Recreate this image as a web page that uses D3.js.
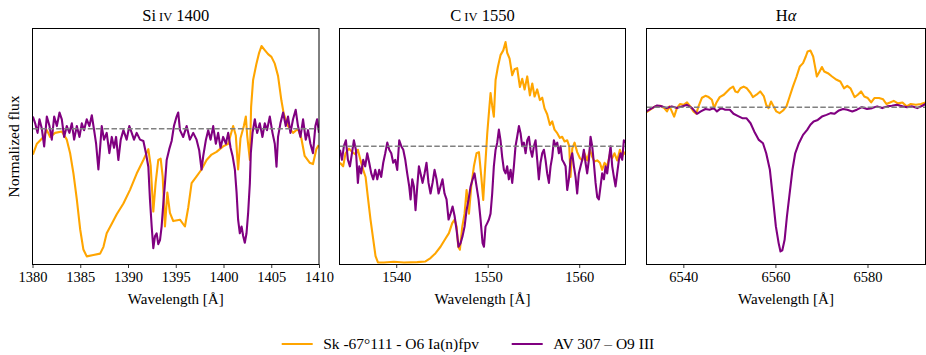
<!DOCTYPE html>
<html>
<head>
<meta charset="utf-8">
<script src="https://cdn.jsdelivr.net/npm/d3@7"></script>
<style>
  body { margin: 0; background: #fff; }
  svg { display: block; }
  text { font-family: "Liberation Serif", "DejaVu Serif", serif; fill: #000; }
</style>
</head>
<body>
<svg id="chart" width="926" height="355"></svg>
<script>
// Normalized spectra as [wavelength (Å), normalized flux] pairs.

// Si IV 1400 region
const siivSk67 = [
  [1380.04,0.81],[1380.46,0.89],[1381.15,0.94],[1381.50,0.99],[1381.85,0.94],[1382.37,0.97],
  [1383.07,0.98],[1383.59,0.92],[1383.94,0.82],[1384.29,0.67],[1384.64,0.48],[1384.99,0.26],
  [1385.33,0.11],[1385.68,0.06],[1386.38,0.07],[1387.08,0.08],[1387.43,0.13],[1387.77,0.23],
  [1388.30,0.30],[1388.82,0.37],[1389.52,0.45],[1390.21,0.55],[1390.91,0.67],[1391.61,0.77],
  [1392.13,0.85],[1392.37,0.73],[1392.65,0.39],[1392.89,0.60],[1393.17,0.77],[1393.42,0.78],
  [1393.63,0.65],[1393.87,0.28],[1394.12,0.53],[1394.39,0.38],[1394.74,0.32],[1395.44,0.33],
  [1395.96,0.28],[1396.31,0.42],[1396.66,0.60],[1397.18,0.65],[1397.70,0.70],[1398.23,0.77],
  [1398.75,0.81],[1399.27,0.83],[1399.96,0.87],[1400.49,0.89],[1401.01,1.02],[1401.29,0.95],
  [1401.53,0.70],[1401.78,0.93],[1402.13,1.02],[1402.34,1.09],[1402.48,0.95],[1402.76,0.77],
  [1402.89,1.16],[1403.10,1.36],[1403.45,1.48],[1403.73,1.56],[1403.98,1.61],[1404.32,1.58],
  [1404.67,1.55],[1405.02,1.53],[1405.37,1.48],[1405.71,1.39],[1406.06,1.21],[1406.31,1.11],
  [1406.76,1.02],[1407.28,0.97],[1407.80,1.00],[1408.15,0.93],[1408.50,0.80],[1409.02,0.75],
  [1409.37,0.74],[1409.72,0.85],[1409.97,0.88]
];
const siivAv307 = [
  [1380.04,1.09],[1380.28,1.04],[1380.53,0.97],[1380.73,1.07],[1380.98,1.00],[1381.22,0.87],
  [1381.50,1.09],[1381.78,1.02],[1382.02,0.92],[1382.27,1.09],[1382.55,1.02],[1382.83,1.12],
  [1383.07,1.07],[1383.31,0.94],[1383.59,1.02],[1383.87,0.97],[1384.12,1.04],[1384.36,0.92],
  [1384.64,1.02],[1384.92,0.94],[1385.16,1.04],[1385.40,0.99],[1385.68,1.07],[1385.96,1.02],
  [1386.21,1.10],[1386.45,0.99],[1386.66,0.89],[1386.90,0.70],[1387.08,0.86],[1387.25,1.02],
  [1387.49,0.92],[1387.77,0.97],[1388.05,0.82],[1388.30,0.94],[1388.54,0.86],[1388.75,0.94],
  [1388.99,0.77],[1389.24,0.92],[1389.52,0.99],[1389.86,0.92],[1390.14,1.02],[1390.39,0.97],
  [1390.63,0.92],[1390.91,0.97],[1391.26,0.92],[1391.61,0.91],[1391.88,0.82],[1392.13,0.72],
  [1392.30,0.48],[1392.48,0.28],[1392.65,0.12],[1392.83,0.21],[1393.00,0.23],[1393.17,0.15],
  [1393.35,0.18],[1393.52,0.28],[1393.70,0.45],[1393.87,0.60],[1394.05,0.77],[1394.32,0.85],
  [1394.57,0.91],[1394.81,1.02],[1395.09,1.09],[1395.26,1.12],[1395.44,0.99],[1395.78,0.94],
  [1396.14,1.02],[1396.48,0.92],[1396.83,0.97],[1397.18,0.92],[1397.46,0.84],[1397.70,0.70],
  [1397.88,0.80],[1398.16,0.92],[1398.40,0.99],[1398.65,0.92],[1398.92,1.02],[1399.20,0.89],
  [1399.44,0.97],[1399.69,0.86],[1399.96,0.94],[1400.25,0.89],[1400.49,0.97],[1400.74,0.86],
  [1400.95,0.80],[1401.19,0.70],[1401.37,0.53],[1401.53,0.33],[1401.71,0.23],[1401.89,0.28],
  [1402.06,0.21],[1402.23,0.16],[1402.41,0.23],[1402.58,0.38],[1402.76,0.60],[1402.86,0.82],
  [1403.04,0.97],[1403.28,1.07],[1403.52,0.97],[1403.80,1.04],[1404.08,0.94],[1404.32,1.04],
  [1404.56,0.99],[1404.85,1.09],[1405.13,0.97],[1405.37,0.89],[1405.55,0.72],[1405.71,0.94],
  [1405.96,1.04],[1406.24,1.12],[1406.52,1.02],[1406.76,1.09],[1407.01,0.97],[1407.28,1.07],
  [1407.56,1.14],[1407.80,1.02],[1408.06,0.94],[1408.33,1.07],[1408.61,0.92],[1408.85,0.99],
  [1409.10,0.89],[1409.37,0.82],[1409.62,1.02],[1409.80,1.07],[1410.00,0.97]
];

// C IV 1550 region
const civSk67 = [
  [1533.85,0.86],[1534.20,0.83],[1534.46,0.94],[1534.83,0.98],[1535.19,0.95],[1535.56,0.93],
  [1535.81,0.97],[1536.10,0.88],[1536.39,0.80],[1536.65,0.74],[1536.90,0.57],[1537.19,0.38],
  [1537.49,0.21],[1537.74,0.07],[1538.00,0.017],[1538.65,0.017],[1539.75,0.023],[1540.84,0.017],
  [1542.30,0.02],[1543.20,0.026],[1543.75,0.054],[1544.30,0.096],[1544.84,0.15],[1545.39,0.22],
  [1545.76,0.265],[1546.12,0.35],[1546.38,0.38],[1546.60,0.32],[1546.78,0.15],[1546.96,0.125],
  [1547.22,0.32],[1547.47,0.43],[1547.69,0.63],[1547.95,0.43],[1548.20,0.66],[1548.49,0.83],
  [1548.78,0.94],[1549.04,0.95],[1549.30,0.74],[1549.51,0.545],[1549.70,0.80],[1549.95,1.11],
  [1550.16,1.31],[1550.31,1.45],[1550.49,1.34],[1550.67,1.25],[1550.86,1.56],[1551.11,1.67],
  [1551.40,1.77],[1551.70,1.81],[1551.95,1.88],[1552.13,1.79],[1552.39,1.74],[1552.68,1.60],
  [1552.93,1.65],[1553.22,1.66],[1553.52,1.50],[1553.77,1.57],[1554.03,1.48],[1554.32,1.59],
  [1554.61,1.43],[1554.87,1.53],[1555.12,1.42],[1555.41,1.48],[1555.70,1.39],[1555.96,1.41],
  [1556.21,1.32],[1556.50,1.27],[1556.80,1.18],[1557.05,1.21],[1557.30,1.14],[1557.60,1.11],
  [1557.89,1.07],[1558.14,1.08],[1558.40,1.04],[1558.69,1.05],[1558.91,1.00],[1559.05,0.74],
  [1559.24,0.98],[1559.49,1.03],[1559.78,0.95],[1560.07,0.90],[1560.33,0.88],[1560.58,0.94],
  [1560.87,0.88],[1561.17,0.97],[1561.42,0.91],[1561.67,0.87],[1561.97,0.88],[1562.26,0.86],
  [1562.51,0.80],[1562.77,0.86],[1563.06,0.83],[1563.35,0.93],[1563.61,0.90],[1563.86,0.94],
  [1564.15,0.88],[1564.45,0.97],[1564.70,0.91],[1564.88,0.95],[1565.06,0.93]
];
const civAv307 = [
  [1533.85,0.97],[1534.07,0.885],[1534.28,1.00],[1534.50,1.05],[1534.72,0.885],[1534.94,0.83],
  [1535.16,0.94],[1535.37,1.05],[1535.59,0.97],[1535.81,0.69],[1535.96,0.83],[1536.17,0.77],
  [1536.39,0.885],[1536.61,0.83],[1536.83,0.94],[1537.05,0.86],[1537.27,0.77],[1537.49,0.72],
  [1537.71,0.80],[1537.93,0.72],[1538.14,0.80],[1538.36,0.74],[1538.58,0.86],[1538.80,0.94],
  [1539.02,1.03],[1539.24,0.97],[1539.46,0.94],[1539.67,0.86],[1539.89,0.885],[1540.11,0.80],
  [1540.33,1.05],[1540.55,1.00],[1540.77,0.97],[1540.99,0.885],[1541.20,0.77],[1541.42,0.66],
  [1541.57,0.55],[1541.75,0.72],[1541.93,0.66],[1542.11,0.46],[1542.30,0.66],[1542.48,0.83],
  [1542.66,0.77],[1542.88,0.69],[1543.10,0.77],[1543.31,0.86],[1543.53,0.69],[1543.75,0.60],
  [1543.97,0.69],[1544.19,0.80],[1544.41,0.72],[1544.63,0.60],[1544.84,0.66],[1545.06,0.72],
  [1545.28,0.60],[1545.50,0.55],[1545.72,0.38],[1545.94,0.43],[1546.16,0.49],[1546.38,0.41],
  [1546.60,0.29],[1546.81,0.15],[1547.03,0.18],[1547.25,0.24],[1547.47,0.32],[1547.69,0.46],
  [1547.91,0.55],[1548.13,0.66],[1548.35,0.72],[1548.56,0.77],[1548.78,0.66],[1549.00,0.55],
  [1549.22,0.38],[1549.44,0.18],[1549.59,0.15],[1549.76,0.32],[1549.95,0.35],[1550.13,0.38],
  [1550.31,0.43],[1550.49,0.60],[1550.67,0.83],[1550.86,0.97],[1551.04,1.03],[1551.22,1.14],
  [1551.40,1.05],[1551.58,0.91],[1551.77,0.80],[1551.95,0.77],[1552.13,0.83],[1552.31,0.72],
  [1552.50,0.80],[1552.68,0.69],[1552.86,0.83],[1553.04,1.00],[1553.22,1.08],[1553.41,1.17],
  [1553.59,1.11],[1553.77,1.00],[1553.95,1.03],[1554.14,0.94],[1554.32,1.05],[1554.50,1.08],
  [1554.68,0.97],[1554.86,0.91],[1555.05,1.00],[1555.23,1.05],[1555.41,0.885],[1555.59,0.72],
  [1555.77,0.86],[1555.96,0.94],[1556.14,0.97],[1556.32,0.885],[1556.50,0.77],[1556.69,0.69],
  [1556.87,0.83],[1557.05,0.91],[1557.23,1.05],[1557.42,1.00],[1557.60,1.03],[1557.78,0.94],
  [1557.96,1.00],[1558.14,0.885],[1558.33,0.86],[1558.51,0.83],[1558.69,0.63],[1558.87,0.72],
  [1559.05,0.885],[1559.24,0.94],[1559.42,0.83],[1559.60,0.74],[1559.78,0.60],[1559.96,0.77],
  [1560.15,0.83],[1560.33,0.885],[1560.51,0.97],[1560.69,0.86],[1560.87,0.77],[1561.06,0.885],
  [1561.24,1.08],[1561.42,1.00],[1561.60,0.86],[1561.79,0.69],[1561.97,0.57],[1562.15,0.55],
  [1562.33,0.66],[1562.51,0.77],[1562.70,0.72],[1562.88,0.83],[1563.06,0.77],[1563.24,0.885],
  [1563.43,1.00],[1563.61,0.83],[1563.79,0.74],[1563.97,0.66],[1564.15,0.77],[1564.34,0.885],
  [1564.52,0.94],[1564.70,0.885],[1564.88,1.05],[1565.06,1.03]
];

// H-alpha region
const haSk67 = [
  [6531.96,0.966],[6532.8,0.984],[6533.9,1.005],[6535.0,1.009],[6535.86,0.994],[6536.44,0.973],
  [6537.0,1.005],[6537.5,0.973],[6538.0,0.94],[6538.6,0.994],[6539.3,1.02],[6540.06,1.015],
  [6540.8,1.03],[6541.5,1.005],[6542.2,0.973],[6542.8,0.958],[6543.3,1.005],[6544.05,1.06],
  [6544.8,1.072],[6545.5,1.064],[6546.2,1.047],[6546.7,0.994],[6547.2,1.03],[6547.9,1.064],
  [6548.8,1.079],[6549.5,1.10],[6550.2,1.12],[6550.8,1.131],[6551.3,1.10],[6551.8,1.094],
  [6552.4,1.12],[6553.1,1.131],[6553.8,1.12],[6554.6,1.09],[6555.1,1.064],[6555.9,1.079],
  [6556.7,1.10],[6557.5,1.068],[6558.0,1.015],[6558.5,0.994],[6559.05,1.036],[6559.6,1.005],
  [6560.2,0.973],[6560.9,0.962],[6561.66,0.979],[6562.4,1.005],[6563.1,1.068],[6563.8,1.131],
  [6564.6,1.195],[6565.3,1.259],[6566.0,1.28],[6566.6,1.322],[6567.0,1.354],[6567.6,1.36],
  [6568.2,1.322],[6568.6,1.259],[6569.0,1.195],[6569.6,1.227],[6570.1,1.255],[6570.6,1.227],
  [6571.4,1.216],[6572.3,1.195],[6573.3,1.174],[6574.1,1.163],[6574.9,1.12],[6575.6,1.135],
  [6576.3,1.12],[6577.2,1.064],[6577.9,1.079],[6578.6,1.10],[6579.3,1.068],[6580.07,1.058],
  [6580.8,1.03],[6581.5,1.058],[6582.5,1.058],[6583.4,1.05],[6584.1,1.02],[6584.9,1.03],
  [6585.7,1.04],[6586.6,1.024],[6587.6,1.03],[6588.5,1.005],[6589.4,1.02],[6590.5,1.015],
  [6591.6,1.02],[6592.6,1.03]
];
const haAv307 = [
  [6531.96,0.973],[6533.2,0.994],[6534.3,1.011],[6535.4,1.005],[6536.4,0.994],[6537.5,1.005],
  [6538.6,0.994],[6539.7,1.005],[6540.8,1.015],[6541.9,0.994],[6542.97,0.958],[6543.8,0.973],
  [6544.8,0.988],[6545.7,0.984],[6546.6,0.994],[6547.3,0.973],[6548.2,0.994],[6549.1,0.984],
  [6550.1,0.984],[6550.9,0.958],[6551.8,0.945],[6552.8,0.93],[6553.7,0.93],[6554.6,0.898],
  [6555.4,0.846],[6556.4,0.792],[6557.3,0.771],[6558.0,0.707],[6558.8,0.602],[6559.5,0.411],
  [6560.1,0.242],[6560.7,0.136],[6561.1,0.083],[6561.5,0.09],[6562.0,0.157],[6562.5,0.305],
  [6563.1,0.454],[6563.7,0.602],[6564.3,0.707],[6565.1,0.771],[6566.0,0.824],[6566.9,0.856],
  [6567.6,0.888],[6568.3,0.909],[6569.2,0.919],[6570.1,0.94],[6571.1,0.951],[6572.0,0.962],
  [6572.8,0.958],[6573.8,0.979],[6574.7,0.988],[6575.6,0.984],[6576.7,0.973],[6577.7,0.984],
  [6578.8,1.00],[6579.9,0.988],[6581.0,0.994],[6582.1,1.005],[6583.2,0.994],[6584.3,1.005],
  [6585.3,1.009],[6586.4,1.015],[6587.6,1.005],[6588.6,1.00],[6589.7,1.005],[6590.8,0.994],
  [6591.9,1.009],[6592.6,1.02]
];

// Axis ranges and ticks
const siivRange = [1380, 1410];
const civRange = [1533.8, 1565.06];
const haRange = [6532, 6592.6];
const siivTicks = [1380, 1385, 1390, 1395, 1400, 1405, 1410];
const civTicks = [1540, 1550, 1560];
const haTicks = [6540, 6560, 6580];
const siivFluxRange = [0, 1.739];
const civFluxRange = [0, 1.995];
const haFluxRange = [0, 1.5];
const continuumLevel = 1.0;

const seriesNames = ["Sk -67\u00b0111 - O6 Ia(n)fpv", "AV 307 \u2013 O9 III"];
const seriesColors = ["orange", "purple"];

const panels = [
  { title: ["Si", "iv", " 1400"], series: [siivSk67, siivAv307], xr: siivRange, yr: siivFluxRange, ticks: siivTicks },
  { title: ["C", "iv", " 1550"], series: [civSk67, civAv307], xr: civRange, yr: civFluxRange, ticks: civTicks },
  { title: ["H", "\u03b1", ""], series: [haSk67, haAv307], xr: haRange, yr: haFluxRange, ticks: haTicks, greek: true }
];

const svg = d3.select("#chart");
const plotTop = 28.5, plotBottom = 264.5;
const lefts = [32.5, 339.5, 646.5];
const rights = [319, 625.5, 925.5];

panels.forEach((p, i) => {
  const x = d3.scaleLinear().domain(p.xr).range([lefts[i], rights[i]]);
  const y = d3.scaleLinear().domain(p.yr).range([plotBottom, plotTop]);
  const g = svg.append("g");

  const clipId = "clip" + i;
  svg.append("clipPath").attr("id", clipId)
    .append("rect").attr("x", lefts[i]).attr("y", plotTop)
    .attr("width", rights[i] - lefts[i]).attr("height", plotBottom - plotTop);

  const plot = g.append("g").attr("clip-path", `url(#${clipId})`);
  const line = d3.line().x(d => x(d[0])).y(d => y(d[1]));

  p.series.forEach((s, k) => {
    plot.append("path").datum(s)
      .attr("d", line)
      .attr("fill", "none")
      .attr("stroke", seriesColors[k])
      .attr("stroke-width", 2.1)
      .attr("stroke-linejoin", "round");
  });

  plot.append("line")
    .attr("x1", lefts[i]).attr("x2", rights[i])
    .attr("y1", y(continuumLevel)).attr("y2", y(continuumLevel))
    .attr("stroke", "#808080").attr("stroke-width", 1.5)
    .attr("stroke-dasharray", "5.5,2.4");

  // bottom axis
  const ax = g.append("g").attr("transform", `translate(0,${plotBottom})`)
    .call(d3.axisBottom(x).tickValues(p.ticks).tickSize(3.5).tickPadding(4).tickFormat(d3.format("d")));
  ax.attr("font-family", null);
  ax.select(".domain").remove();
  ax.selectAll(".tick line").attr("stroke", "#000").attr("stroke-width", 0.8);
  ax.selectAll(".tick text").attr("font-size", 14.5).attr("fill", "#000");

  // frame
  g.append("rect")
    .attr("x", lefts[i]).attr("y", plotTop)
    .attr("width", rights[i] - lefts[i]).attr("height", plotBottom - plotTop)
    .attr("fill", "none").attr("stroke", "#000").attr("stroke-width", 1);

  // title
  const cx = (lefts[i] + rights[i]) / 2;
  const t = g.append("text").attr("x", cx).attr("y", 20.5)
    .attr("text-anchor", "middle").attr("font-size", 16.5);
  t.append("tspan").text(p.title[0]);
  if (p.greek) {
    t.append("tspan").attr("font-style", "italic").text(p.title[1]);
  } else {
    t.append("tspan").attr("font-size", 12.5).attr("dx", 3).text(p.title[1].toUpperCase());
    t.append("tspan").text(p.title[2]);
  }

  // x label
  g.append("text").attr("x", cx).attr("y", 303.5)
    .attr("text-anchor", "middle").attr("font-size", 15)
    .text("Wavelength [\u00c5]");
});

// y label
svg.append("text")
  .attr("transform", `translate(18.5,${(plotTop + plotBottom) / 2}) rotate(-90)`)
  .attr("text-anchor", "middle").attr("font-size", 15.5)
  .text("Normalized flux");

// legend
const legendX = [281.7, 511.7];
seriesNames.forEach((name, k) => {
  svg.append("line")
    .attr("x1", legendX[k]).attr("x2", legendX[k] + 31)
    .attr("y1", 344).attr("y2", 344)
    .attr("stroke", seriesColors[k]).attr("stroke-width", 2);
  svg.append("text")
    .attr("x", legendX[k] + 41.5).attr("y", 348.5)
    .attr("font-size", 15.5).text(name);
});
</script>
</body>
</html>
